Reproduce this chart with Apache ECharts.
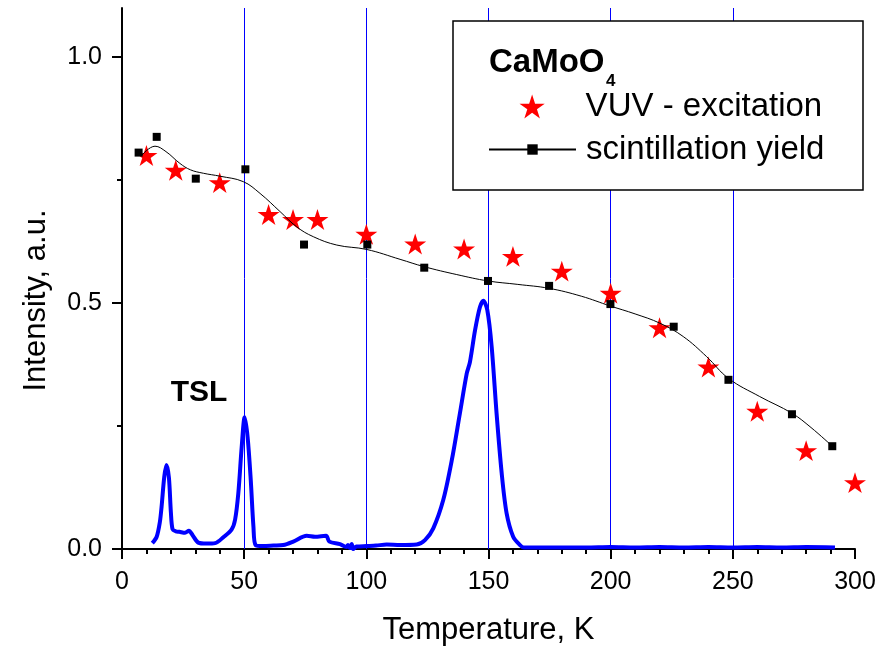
<!DOCTYPE html>
<html>
<head>
<meta charset="utf-8">
<script src="https://cdn.jsdelivr.net/npm/echarts@6/dist/echarts.min.js"></script>
<style>
html,body{margin:0;padding:0;background:#fff;}
#chart{width:893px;height:647px;}
</style>
</head>
<body>
<div id="chart"></div>
<script>
// ---- data ----
const vuvT = [10, 22, 40, 60, 70, 80, 100, 120, 140, 160, 180, 200, 220, 240, 260, 280, 300];
const vuvI = [0.80, 0.77, 0.745, 0.68, 0.67, 0.67, 0.64, 0.62, 0.61, 0.595, 0.565, 0.52, 0.45, 0.37, 0.28, 0.20, 0.135];

const yieldT = [6.8, 14.2, 30.2, 50.5, 74.5, 100.4, 123.7, 149.8, 174.8, 199.9, 225.8, 248.2, 274.2, 290.7];
const yieldI = [0.806, 0.838, 0.753, 0.772, 0.619, 0.619, 0.572, 0.545, 0.535, 0.498, 0.452, 0.344, 0.274, 0.209];

const fitT = [8.0, 13.5, 18, 23.7, 28, 33.3, 40.1, 49.6, 56.5, 64.7, 71.5, 78.3, 87.9, 100.2, 113.8, 123.7, 137, 149.8, 162, 174.8, 188, 199.9, 210, 220.2, 229.7, 239.3, 248.2, 261, 274.2, 282, 290.7];
const fitI = [0.800, 0.819, 0.808, 0.784, 0.771, 0.764, 0.758, 0.747, 0.723, 0.686, 0.655, 0.635, 0.618, 0.609, 0.589, 0.574, 0.558, 0.545, 0.538, 0.530, 0.514, 0.494, 0.478, 0.459, 0.432, 0.391, 0.347, 0.310, 0.276, 0.247, 0.209];

const tslT = [12.4, 14.2, 15.5, 16.2, 17.3, 18.2, 19.2, 20.0, 20.7, 22.0, 23.5, 25.8, 27.4, 28.9, 31.2, 34.6, 38.1, 41.5, 44.9, 46.3, 47.6, 49.0, 50.2, 51.4, 52.7, 53.8, 54.7, 57.8, 62.0, 66.0, 70.1, 75.6, 79.0, 83.5, 84.9, 89.2, 91.9, 92.5, 93.3, 94.0, 94.6, 96.0, 100.1, 104, 108.3, 113.8, 120.6, 124, 127.4, 131.5, 135.0, 138.3, 141.1, 142.4, 144.5, 146.5, 147.9, 149.5, 151.3, 153.3, 155.4, 157.4, 160.1, 162.9, 164.5, 170, 180, 190, 200, 210, 220, 230, 240, 250, 260, 270, 280, 291.8];
const tslI = [0.012, 0.025, 0.055, 0.086, 0.147, 0.171, 0.145, 0.075, 0.040, 0.036, 0.035, 0.033, 0.037, 0.028, 0.013, 0.011, 0.012, 0.024, 0.040, 0.060, 0.113, 0.208, 0.268, 0.228, 0.140, 0.045, 0.008, 0.006, 0.007, 0.008, 0.015, 0.027, 0.025, 0.027, 0.015, 0.010, 0.004, 0.008, 0.002, 0.010, 0.000, 0.005, 0.006, 0.007, 0.009, 0.008, 0.009, 0.018, 0.042, 0.100, 0.181, 0.276, 0.357, 0.380, 0.445, 0.492, 0.505, 0.486, 0.411, 0.276, 0.154, 0.073, 0.025, 0.008, 0.003, 0.003, 0.003, 0.003, 0.004, 0.003, 0.004, 0.003, 0.004, 0.003, 0.004, 0.003, 0.004, 0.003];

const gridTemps = [50, 100, 150, 200, 250];
const xTicks = [0, 50, 100, 150, 200, 250, 300];
const yMajorTicks = [0, 0.5, 1.0];
const yMinorTicks = [0.25, 0.75];

const zip = (a, b) => a.map((v, i) => [v, b[i]]);
const FONT = '"Liberation Sans", Arial, sans-serif';
const starPath = 'path://M50,0 L61.23,34.55 L97.55,34.55 L68.16,55.9 L79.39,90.45 L50,69.1 L20.61,90.45 L31.84,55.9 L2.45,34.55 L38.77,34.55 Z';

const chart = echarts.init(document.getElementById('chart'), null, {renderer: 'canvas'});
const option = {
  animation: false,
  backgroundColor: '#ffffff',
  textStyle: {fontFamily: FONT, color: '#000'},
  grid: {left: 122, right: 38, top: 8, bottom: 98, containLabel: false, outerBoundsMode: 'none'},
  xAxis: {
    type: 'value', min: 0, max: 300, interval: 50,
    name: 'Temperature, K', nameLocation: 'middle', nameGap: 66,
    nameTextStyle: {fontSize: 31, color: '#000', fontFamily: FONT},
    axisLine: {show: true, lineStyle: {color: '#000', width: 2}},
    axisTick: {show: true, length: 10, lineStyle: {color: '#000', width: 2}},
    minorTick: {show: true, splitNumber: 5, length: 5, lineStyle: {color: '#000', width: 2}},
    axisLabel: {fontSize: 25, color: '#000', margin: 21, fontFamily: FONT,
      customValues: xTicks},
    splitLine: {show: false}
  },
  yAxis: [{
    type: 'value', min: 0, max: 1.1, interval: 0.5, position: 'left',
    name: 'Intensity, a.u.', nameLocation: 'middle', nameGap: 70, nameRotate: 90,
    nameTextStyle: {fontSize: 31, color: '#000', fontFamily: FONT, padding: [0, 44, 0, 0]},
    axisLine: {show: true, lineStyle: {color: '#000', width: 2}},
    axisTick: {show: true, length: 10, lineStyle: {color: '#000', width: 2}, customValues: yMajorTicks},
    axisLabel: {fontSize: 25, color: '#000', margin: 20, fontFamily: FONT,
      customValues: yMajorTicks, formatter: v => v.toFixed(1)},
    splitLine: {show: false}
  }, {
    type: 'value', min: 0, max: 1.1, position: 'left', offset: 0,
    axisLine: {show: false},
    axisTick: {show: true, length: 5, lineStyle: {color: '#000', width: 2}, customValues: yMinorTicks},
    axisLabel: {show: false},
    splitLine: {show: false}
  }],
  legend: [{
    data: [{name: 'VUV - excitation', icon: starPath}],
    left: 519.5, top: 90, orient: 'vertical', padding: 0,
    itemWidth: 87, itemHeight: 24, selectedMode: false,
    textStyle: {fontSize: 33, lineHeight: 33, color: '#000', fontFamily: FONT, padding: [0, 0, 0, 5]},
    z: 10
  }, {
    data: ['scintillation yield'],
    left: 488, top: 133, orient: 'vertical', padding: 0,
    itemWidth: 87, itemHeight: 13, selectedMode: false,
    textStyle: {fontSize: 33, lineHeight: 33, color: '#000', fontFamily: FONT, padding: [0, 0, 0, 5]},
    z: 10
  }],
  graphic: [
    {type: 'rect', z: 8, shape: {x: 453, y: 21, width: 410, height: 169},
     style: {fill: '#fff', stroke: '#000', lineWidth: 1.5}},
    {type: 'text', z: 11, x: 489, y: 63,
     style: {text: 'CaMoO', fontSize: 33, fontWeight: 'bold', fontFamily: FONT, fill: '#000', textAlign: 'left', textVerticalAlign: 'middle'}},
    {type: 'text', z: 11, x: 606, y: 81,
     style: {text: '4', fontSize: 17, fontWeight: 'bold', fontFamily: FONT, fill: '#000', textAlign: 'left', textVerticalAlign: 'middle'}},
    {type: 'text', z: 11, x: 199, y: 393,
     style: {text: 'TSL', fontSize: 30, fontWeight: 'bold', fontFamily: FONT, fill: '#000', textAlign: 'center', textVerticalAlign: 'middle'}}
  ],
  series: [{
    name: 'TSL', type: 'line', z: 3,
    data: zip(tslT, tslI), showSymbol: false, symbol: 'none', smooth: 0.3,
    lineStyle: {color: '#0000ff', width: 4},
    itemStyle: {color: '#0000ff'},
    markLine: {
      silent: true, symbol: ['none', 'none'], z: 1,
      label: {show: false},
      lineStyle: {color: '#0000ff', width: 1, type: 'solid'},
      emphasis: {disabled: true},
      data: gridTemps.map(t => ({xAxis: t}))
    }
  }, {
    name: 'VUV - excitation', type: 'scatter', z: 4,
    data: zip(vuvT, vuvI), symbol: starPath, symbolSize: 22, symbolKeepAspect: true,
    itemStyle: {color: '#ff0000', opacity: 1}
  }, {
    name: 'scintillation yield', type: 'line', z: 5,
    data: zip(fitT, fitI), showSymbol: false, symbol: 'rect', symbolSize: 8, smooth: 0.4,
    lineStyle: {color: '#000', width: 1},
    itemStyle: {color: '#000', opacity: 1}
  }, {
    name: 'yield points', type: 'scatter', z: 6,
    data: zip(yieldT, yieldI), symbol: 'rect', symbolSize: 8,
    itemStyle: {color: '#000', opacity: 1}
  }]
};
chart.setOption(option);
</script>
</body>
</html>
